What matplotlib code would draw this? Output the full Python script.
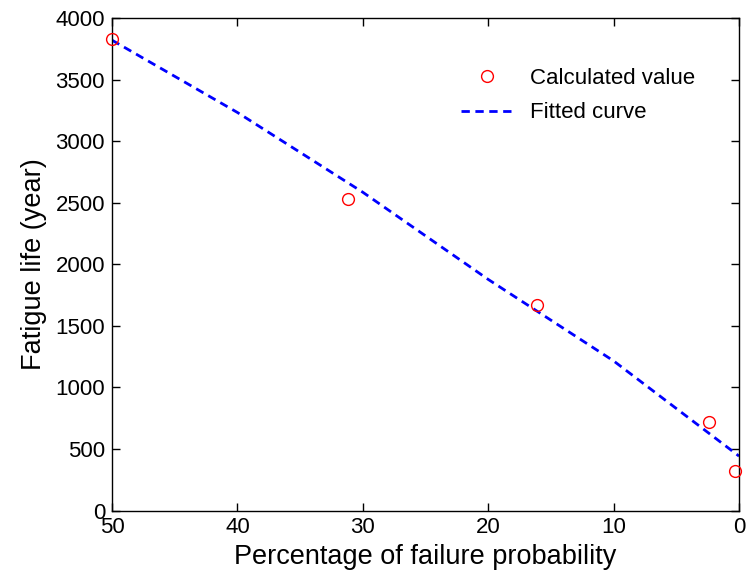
import matplotlib
matplotlib.use("Agg")
import matplotlib.pyplot as plt

plt.rcParams['font.family'] = ['Liberation Sans', 'DejaVu Sans']

# calculated values (percentage of failure probability, fatigue life)
calc_pct = [50, 31.2, 16.1, 2.4, 0.3]
calc_life = [3830, 2528, 1667, 715, 317]

# fitted curve
fit_pct = [50, 40, 30, 20, 10, 0]
fit_life = [3820, 3233, 2585, 1877, 1215, 442]

xticks = [50, 40, 30, 20, 10, 0]
yticks = [0, 500, 1000, 1500, 2000, 2500, 3000, 3500, 4000]

fig = plt.figure(figsize=(7.48, 5.81), dpi=100)
ax = fig.add_axes([0.1497, 0.1213, 0.8383, 0.8477])

ax.plot(calc_pct, calc_life, 'o', mfc='none', mec='red', ms=8.5, mew=1.0,
        label='Calculated value', clip_on=False, zorder=3)
ax.plot(fit_pct, fit_life, '--', color='blue', lw=2, dashes=(3, 2),
        label='Fitted curve')

ax.set_xlim(50, 0)
ax.set_ylim(0, 4000)
ax.set_xticks(xticks)
ax.set_yticks(yticks)
ax.tick_params(direction='in', top=True, right=True, labelsize=16, length=6, width=1, pad=5)
for s in ax.spines.values():
    s.set_linewidth(1)

ax.set_xlabel('Percentage of failure probability', fontsize=19.5, labelpad=4)
ax.set_ylabel('Fatigue life (year)', fontsize=19.5, labelpad=6)

ax.legend(loc='upper right', bbox_to_anchor=(0.955, 0.93), frameon=False, fontsize=16,
          handlelength=2.3, borderaxespad=0.3, labelspacing=0.6, handletextpad=0.8)

fig.savefig('out.png', dpi=100)
